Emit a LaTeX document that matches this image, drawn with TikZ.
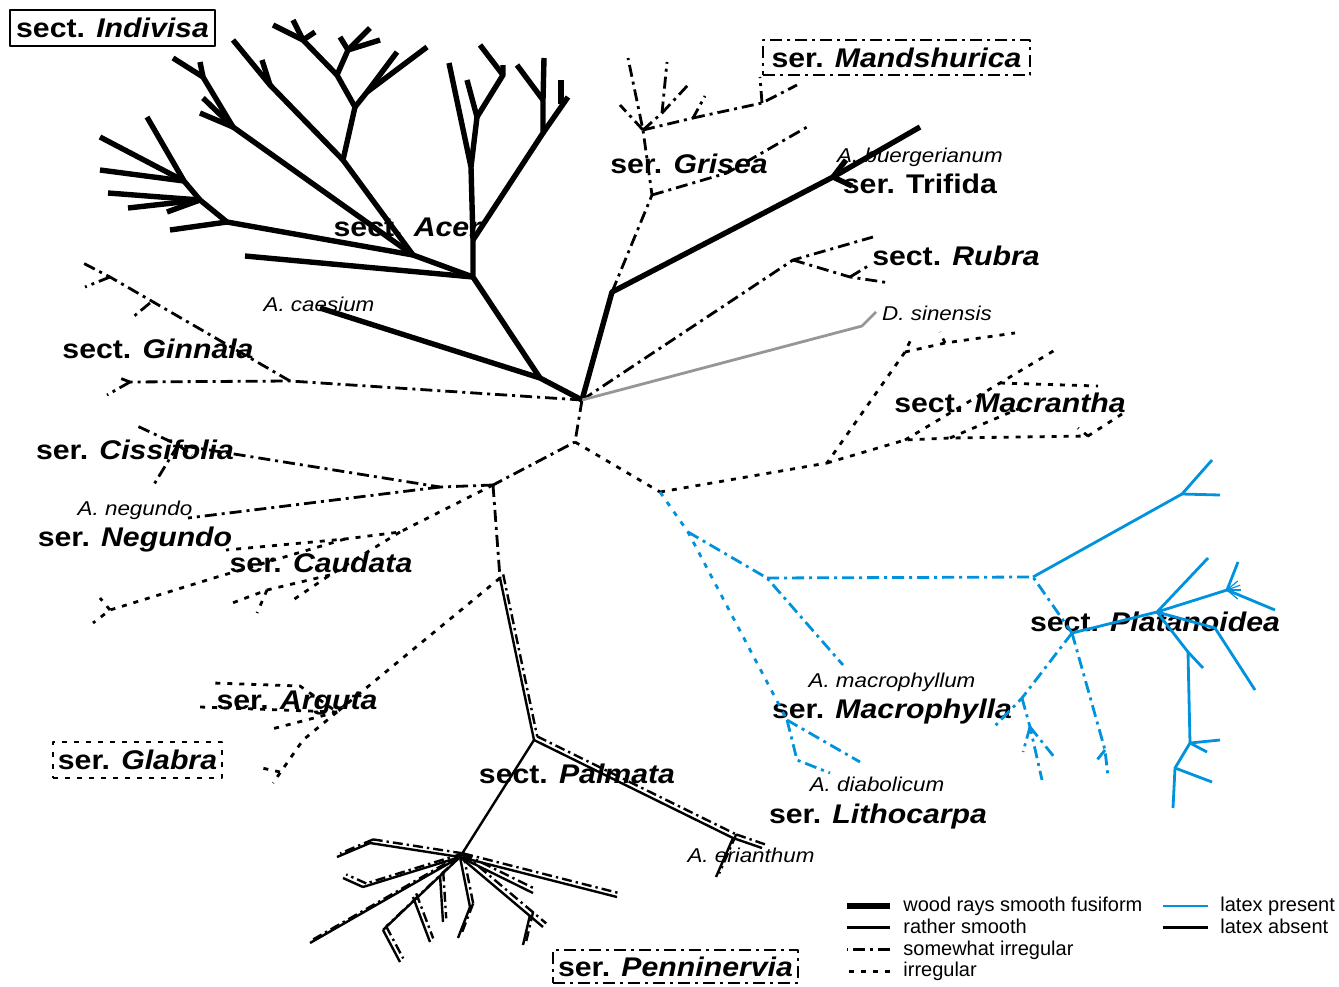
\documentclass[tikz,border=0pt]{standalone}
\usepackage{fontspec}
\setmainfont{Liberation Sans}
\usepackage{graphicx}
\usepackage{xcolor}
\usetikzlibrary{positioning}
\usetikzlibrary{calc}

\definecolor{latexblue}{RGB}{0,146,221}
\definecolor{dsgray}{RGB}{150,150,150}

\newcommand{\taxon}[2]{\scalebox{1.12}[1]{#1 \textit{#2}}}
\newcommand{\species}[1]{\scalebox{1.12}[1]{#1}}
% solid ray with a dash-dot ray running beside it
\newcommand{\palmray}[2]{%
  \draw[palmsolid] (#1) -- (#2);
  \draw[palmdash, transform canvas={shift={(1.6pt,1.8pt)}}] (#1) -- (#2);}

\tikzset{
  fusiform/.style={line width=2.7pt},
  smoothray/.style={line width=1.4pt},
  semiirreg/.style={line width=1.4pt, dash pattern=on 6pt off 2.5pt on 1.5pt off 2.5pt},
  irreg/.style={line width=1.4pt, dash pattern=on 2.5pt off 3.5pt},
  palmsolid/.style={line width=1.2pt},
  palmdash/.style={line width=1.2pt, dash pattern=on 5pt off 2pt on 1.2pt off 2pt},
  latexray/.style={draw=latexblue},
  taxlabel/.style={font=\fontsize{13.5}{15}\selectfont\bfseries, inner sep=0pt, text height=9.5pt, text depth=0pt},
  splabel/.style={font=\fontsize{10}{12}\selectfont\itshape, inner sep=0pt, text height=7.2pt, text depth=0pt},
  keytext/.style={font=\fontsize{10}{12}\selectfont, anchor=west, inner sep=0pt, text height=7.5pt, text depth=2pt},
}

\begin{document}
\begin{tikzpicture}[x=0.5pt, y=-0.5pt, line join=round]
\useasboundingbox (0,0) rectangle (1339,986);

% hubs
\coordinate (root) at (582,400);
\coordinate (lowhub) at (575,442);
\coordinate (lefthub) at (493,485);
\coordinate (righthub) at (660,492);

% sect. Acer / Indivisa
\coordinate (acer) at (540,378);
\coordinate (acerhub) at (473,277);
\coordinate (ac1) at (473,240);
\coordinate (ac2) at (471,167);
\coordinate (ac3) at (477,117);
\coordinate (ac4) at (503,75);
\coordinate (ac5) at (543,133);
\coordinate (ac6) at (543,100);
\coordinate (ac7) at (413,255);
\coordinate (ac8) at (343,160);
\coordinate (ac9) at (355,107);
\coordinate (ac10) at (270,85);
\coordinate (ac11) at (303,40);
\coordinate (ac12) at (367,92);
\coordinate (ac13) at (337,75);
\coordinate (ac14) at (348,50);
\coordinate (ac15) at (233,127);
\coordinate (ac16) at (203,77);
\coordinate (ac17) at (227,222);
\coordinate (ac18) at (200,200);
\coordinate (ac19) at (184,181);

% Trifida, Grisea, Rubra
\coordinate (bend) at (612,292);
\coordinate (trifida) at (833,177);
\coordinate (gri0) at (652,195);
\coordinate (gri1) at (643,130);
\coordinate (gri2) at (727,173);
\coordinate (gri3) at (662,113);
\coordinate (gri4) at (693,118);
\coordinate (gri5) at (762,103);
\coordinate (rubra) at (793,260);
\coordinate (rub1) at (850,277);
\coordinate (dsin) at (862,326);

% Macrantha
\coordinate (mac0) at (827,463);
\coordinate (mac1) at (905,352);
\coordinate (mac2) at (905,440);
\coordinate (mac3) at (1088,436);
\coordinate (mac4) at (945,343);
\coordinate (mac5) at (950,438);
\coordinate (mac6) at (1000,383);

% latex bearing clade
\coordinate (blue0) at (688,532);
\coordinate (blue1) at (767,578);
\coordinate (macph) at (843,665);
\coordinate (lith0) at (787,720);
\coordinate (lith1) at (797,760);
\coordinate (plat0) at (1033,577);
\coordinate (plat1) at (1182,494);
\coordinate (plat2) at (1072,633);
\coordinate (plat3) at (1157,612);
\coordinate (plat4) at (1227,590);
\coordinate (plat5) at (1188,652);
\coordinate (plat6) at (1190,743);
\coordinate (plat7) at (1175,768);
\coordinate (plat8) at (1022,698);
\coordinate (plat9) at (1030,727);
\coordinate (plat10) at (1105,750);

% left half
\coordinate (cis0) at (440,487);
\coordinate (cis1) at (178,445);
\coordinate (cau0) at (400,532);
\coordinate (cau1) at (345,539);
\coordinate (cau2) at (217,577);
\coordinate (cau3) at (110,610);
\coordinate (cau4) at (330,575);
\coordinate (cau5) at (267,590);
\coordinate (gin0) at (290,381);
\coordinate (gin1) at (110,277);
\coordinate (gin2) at (130,382);
\coordinate (palm0) at (500,578);
\coordinate (arg0) at (337,712);
\coordinate (arg1) at (303,740);
\coordinate (palmata) at (534,740);
\coordinate (erian) at (733,838);
\coordinate (penni) at (460,857);
\coordinate (pn1) at (370,843);
\coordinate (pn2) at (363,887);
\coordinate (pn3) at (383,930);
\coordinate (pn4) at (470,907);

% labels
\node[taxlabel, draw, line width=1.1pt, minimum width=102.5pt, minimum height=18pt] (indivisa) at (112.5,28) {\taxon{sect.}{Indivisa}};
\node[taxlabel, draw, semiirreg, line width=1pt, minimum width=133.5pt, minimum height=17.5pt] (mandsh) at (896.5,57.5) {\taxon{ser.}{Mandshurica}};
\node[taxlabel, draw, irreg, line width=1pt, minimum width=84.5pt, minimum height=18pt] (glabra) at (137.5,760) {\taxon{ser.}{Glabra}};
\node[taxlabel, draw, semiirreg, line width=1pt, minimum width=122.5pt, minimum height=16.5pt] (penninervia) at (675.5,966.5) {\taxon{ser.}{Penninervia}};
\node[taxlabel] (acerlab) at (408,227) {\taxon{sect.}{Acer}};
\node[taxlabel] (grisea) at (689,164) {\taxon{ser.}{Grisea}};
\node[taxlabel] (trifidalab) at (920,184) {\taxon{ser.}{\upshape Trifida}};
\node[taxlabel] (rubralab) at (956,256) {\taxon{sect.}{Rubra}};
\node[taxlabel] (ginnala) at (158,349) {\taxon{sect.}{Ginnala}};
\node[taxlabel] (macrantha) at (1010,403) {\taxon{sect.}{Macrantha}};
\node[taxlabel] (cissifolia) at (135,450) {\taxon{ser.}{Cissifolia}};
\node[taxlabel] (negundo) at (135,537) {\taxon{ser.}{Negundo}};
\node[taxlabel] (caudata) at (321,563) {\taxon{ser.}{Caudata}};
\node[taxlabel] (arguta) at (297,700) {\taxon{ser.}{Arguta}};
\node[taxlabel] (palmatalab) at (577,774) {\taxon{sect.}{Palmata}};
\node[taxlabel] (macrophylla) at (892,709) {\taxon{ser.}{Macrophylla}};
\node[taxlabel] (lithocarpa) at (878,814) {\taxon{ser.}{Lithocarpa}};
\node[taxlabel] (platanoidea) at (1155,622) {\taxon{sect.}{Platanoidea}};
\node[splabel] (caesium) at (319,304) {\species{A. caesium}};
\node[splabel] (buerger) at (920,155) {\species{A. buergerianum}};
\node[splabel] (sinensis) at (937,313) {\species{D. sinensis}};
\node[splabel] (anegundo) at (135,508) {\species{A. negundo}};
\node[splabel] (erianthum) at (751,855) {\species{A. erianthum}};
\node[splabel] (amacro) at (892,680) {\species{A. macrophyllum}};
\node[splabel] (diabol) at (877,784) {\species{A. diabolicum}};

% trunk
\draw[semiirreg] (root) -- (lowhub) -- (lefthub);
\draw[irreg] (lowhub) -- (righthub);

% sect. Acer
\draw[fusiform] (root) -- (acer) -- (320,308);
\draw[fusiform] (acer) -- (acerhub) -- (ac1) -- (ac2) -- (449,63);
\draw[fusiform] (ac2) -- (ac3) -- (467,80);
\draw[fusiform] (ac3) -- (ac4) -- (503,65);
\draw[fusiform] (ac4) -- (480,45);
\draw[fusiform] (ac1) -- (ac5) -- (ac6) -- (544,58);
\draw[fusiform] (ac6) -- (517,65);
\draw[fusiform] (ac5) -- (568,97);
\draw[fusiform] (561,104) -- (561,80);
\draw[fusiform] (acerhub) -- (245,256);
\draw[fusiform] (acerhub) -- (ac7) -- (ac8) -- (ac10) -- (233,40);
\draw[fusiform] (ac10) -- (262,60);
\draw[fusiform] (ac8) -- (ac9) -- (ac13) -- (ac11) -- (273,25);
\draw[fusiform] (ac11) -- (293,20);
\draw[fusiform] (ac11) -- (315,32);
\draw[fusiform] (ac13) -- (ac14) -- (340,37);
\draw[fusiform] (ac14) -- (370,28);
\draw[fusiform] (ac14) -- (380,40);
\draw[fusiform] (ac9) -- (ac12) -- (397,52);
\draw[fusiform] (ac12) -- (427,47);
\draw[fusiform] (ac7) -- (ac15) -- (ac16) -- (173,58);
\draw[fusiform] (ac16) -- (200,62);
\draw[fusiform] (ac15) -- (200,113);
\draw[fusiform] (ac15) -- (203,98);
\draw[fusiform] (ac7) -- (ac17) -- (170,230);
\draw[fusiform] (ac17) -- (ac18) -- (108,193);
\draw[fusiform] (ac18) -- (167,212);
\draw[fusiform] (ac18) -- (128,208);
\draw[fusiform] (ac18) -- (ac19) -- (147,117);
\draw[fusiform] (ac19) -- (100,137);
\draw[fusiform] (ac19) -- (100,170);

% ser. Trifida
\draw[fusiform] (root) -- (bend) -- (trifida) -- (920,127);
\draw[fusiform] (trifida) -- (846,160);
\draw[fusiform] (trifida) -- (852,186);

% ser. Grisea, ser. Mandshurica
\draw[semiirreg] (bend) -- (gri0) -- (gri1) -- (628,58);
\draw[semiirreg] (gri1) -- (620,105);
\draw[semiirreg] (gri1) -- (gri3) -- (667,62);
\draw[semiirreg] (gri3) -- (688,85);
\draw[semiirreg] (gri1) -- (gri4) -- (705,96);
\draw[semiirreg] (gri4) -- (gri5) -- (797,85);
\draw[semiirreg] (gri5) -- (760,77);
\draw[semiirreg] (gri0) -- (gri2) -- (807,127);

% sect. Rubra
\draw[semiirreg] (root) -- (rubra) -- (873,237);
\draw[semiirreg] (rubra) -- (rub1) -- (890,283);
\draw[semiirreg] (rub1) -- (868,266);

% D. sinensis
\draw[smoothray, dsgray] (root) -- (dsin) -- (876,312);

% sect. Ginnala
\draw[semiirreg] (root) -- (gin0) -- (gin2) -- (117,377);
\draw[semiirreg] (gin2) -- (107,395);
\draw[semiirreg] (gin0) -- (gin1) -- (83,263);
\draw[semiirreg] (gin1) -- (85,287);
\draw[semiirreg] (150,303) -- (133,317);

% sect. Macrantha
\draw[irreg] (righthub) -- (mac0) -- (mac1) -- (913,335);
\draw[irreg] (mac1) -- (mac4) -- (1015,333);
\draw[irreg] (mac4) -- (940,332);
\draw[irreg] (mac0) -- (mac2) -- (mac5) -- (mac3) -- (1122,414);
\draw[irreg] (mac3) -- (1078,428);
\draw[irreg] (mac5) -- (1025,406);
\draw[irreg] (mac2) -- (mac6) -- (1055,350);
\draw[irreg] (mac6) -- (1098,386);

% Macrophylla, Lithocarpa
\draw[irreg, latexray] (righthub) -- (blue0) -- (lith0);
\draw[semiirreg, latexray] (lith0) -- (lith1) -- (830,773);
\draw[semiirreg, latexray] (lith0) -- (860,762);
\draw[semiirreg, latexray] (blue0) -- (blue1) -- (macph);

% sect. Platanoidea
\draw[semiirreg, latexray] (blue1) -- (plat0) -- (plat2);
\draw[smoothray, latexray] (plat0) -- (plat1) -- (1212,460);
\draw[smoothray, latexray] (plat1) -- (1220,495);
\draw[smoothray, latexray] (plat2) -- (plat3) -- (1208,558);
\draw[smoothray, latexray] (plat3) -- (plat4) -- (1238,562);
\draw[smoothray, latexray] (plat4) -- (1275,610);
\foreach \ang in {-40,-20,0,20,40}
  \draw[latexray, line width=0.6pt] (plat4) -- ++(\ang:14);
\draw[smoothray, latexray] (plat3) -- (plat5) -- (plat6) -- (plat7) -- (1173,808);
\draw[smoothray, latexray] (plat5) -- (1203,668);
\draw[smoothray, latexray] (plat6) -- (1220,740);
\draw[smoothray, latexray] (plat6) -- (1207,752);
\draw[smoothray, latexray] (plat7) -- (1212,782);
\draw[smoothray, latexray] (plat3) -- (1215,628) -- (1255,690);
\draw[semiirreg, latexray] (plat2) -- (plat8) -- (993,728);
\draw[semiirreg, latexray] (plat8) -- (plat9) -- (1042,780);
\draw[semiirreg, latexray] (plat9) -- (1023,752);
\draw[semiirreg, latexray] (plat9) -- (1055,758);
\draw[semiirreg, latexray] (plat2) -- (plat10) -- (1108,777);
\draw[semiirreg, latexray] (plat10) -- (1097,760);

% ser. Cissifolia, ser. Negundo
\draw[semiirreg] (lefthub) -- (cis0) -- (cis1) -- (135,425);
\draw[semiirreg] (cis1) -- (153,486);
\draw[semiirreg] (cis1) -- (192,455);
\draw[semiirreg] (cis0) -- (188,518);

% ser. Caudata
\draw[irreg] (lefthub) -- (cau0) -- (cau1) -- (226,550);
\draw[irreg] (cau1) -- (cau2) -- (cau3) -- (93,623);
\draw[irreg] (cau3) -- (100,598);
\draw[irreg] (cau0) -- (cau4) -- (293,600);
\draw[irreg] (cau4) -- (cau5) -- (227,605);
\draw[irreg] (cau5) -- (257,613);

% sect. Palmata
\draw[semiirreg] (lefthub) -- (palm0);
\draw[irreg] (palm0) -- (arg0) -- (300,686) -- (213,683);
\draw[irreg] (arg0) -- (268,730);
\draw[irreg] (arg0) -- (200,707);
\draw[irreg] (arg0) -- (arg1) -- (273,783);
\draw[irreg] (280,772) -- (262,768);
\palmray{palm0}{palmata}
\palmray{palmata}{erian}
\palmray{erian}{762,848}
\palmray{erian}{716,877}
\draw[palmsolid] (palmata) -- (penni);
\palmray{penni}{pn1}
\palmray{pn1}{337,857}
\palmray{penni}{617,897}
\palmray{penni}{pn2}
\palmray{pn2}{343,878}
\palmray{penni}{310,943}
\palmray{penni}{pn3}
\palmray{pn3}{400,962}
\palmray{413,897}{430,942}
\palmray{440,875}{443,922}
\palmray{penni}{pn4}
\palmray{pn4}{458,938}
\palmray{penni}{543,927}
\palmray{530,915}{523,945}
\palmray{penni}{533,893}

% key
\node[keytext] (key1) at (903,906) {wood rays smooth fusiform};
\node[keytext, below=1pt of key1.south west, anchor=north west] (key2) {rather smooth};
\node[keytext, below=1pt of key2.south west, anchor=north west] (key3) {somewhat irregular};
\node[keytext, below=1pt of key3.south west, anchor=north west] (key4) {irregular};
\node[keytext] (key5) at (1220,906) {latex present};
\node[keytext, below=1pt of key5.south west, anchor=north west] (key6) {latex absent};
\draw[fusiform] ([xshift=-6.5pt]key1.west) -- ++(-21.5pt,0);
\draw[smoothray] ([xshift=-6.5pt]key2.west) -- ++(-21.5pt,0);
\draw[semiirreg] ([xshift=-6.5pt]key3.west) -- ++(-21.5pt,0);
\draw[irreg] ([xshift=-6.5pt]key4.west) -- ++(-21.5pt,0);
\draw[smoothray, latexray] ([xshift=-6pt]key5.west) -- ++(-22.5pt,0);
\draw[smoothray] ([xshift=-6pt]key6.west) -- ++(-22.5pt,0);
\end{tikzpicture}
\end{document}
